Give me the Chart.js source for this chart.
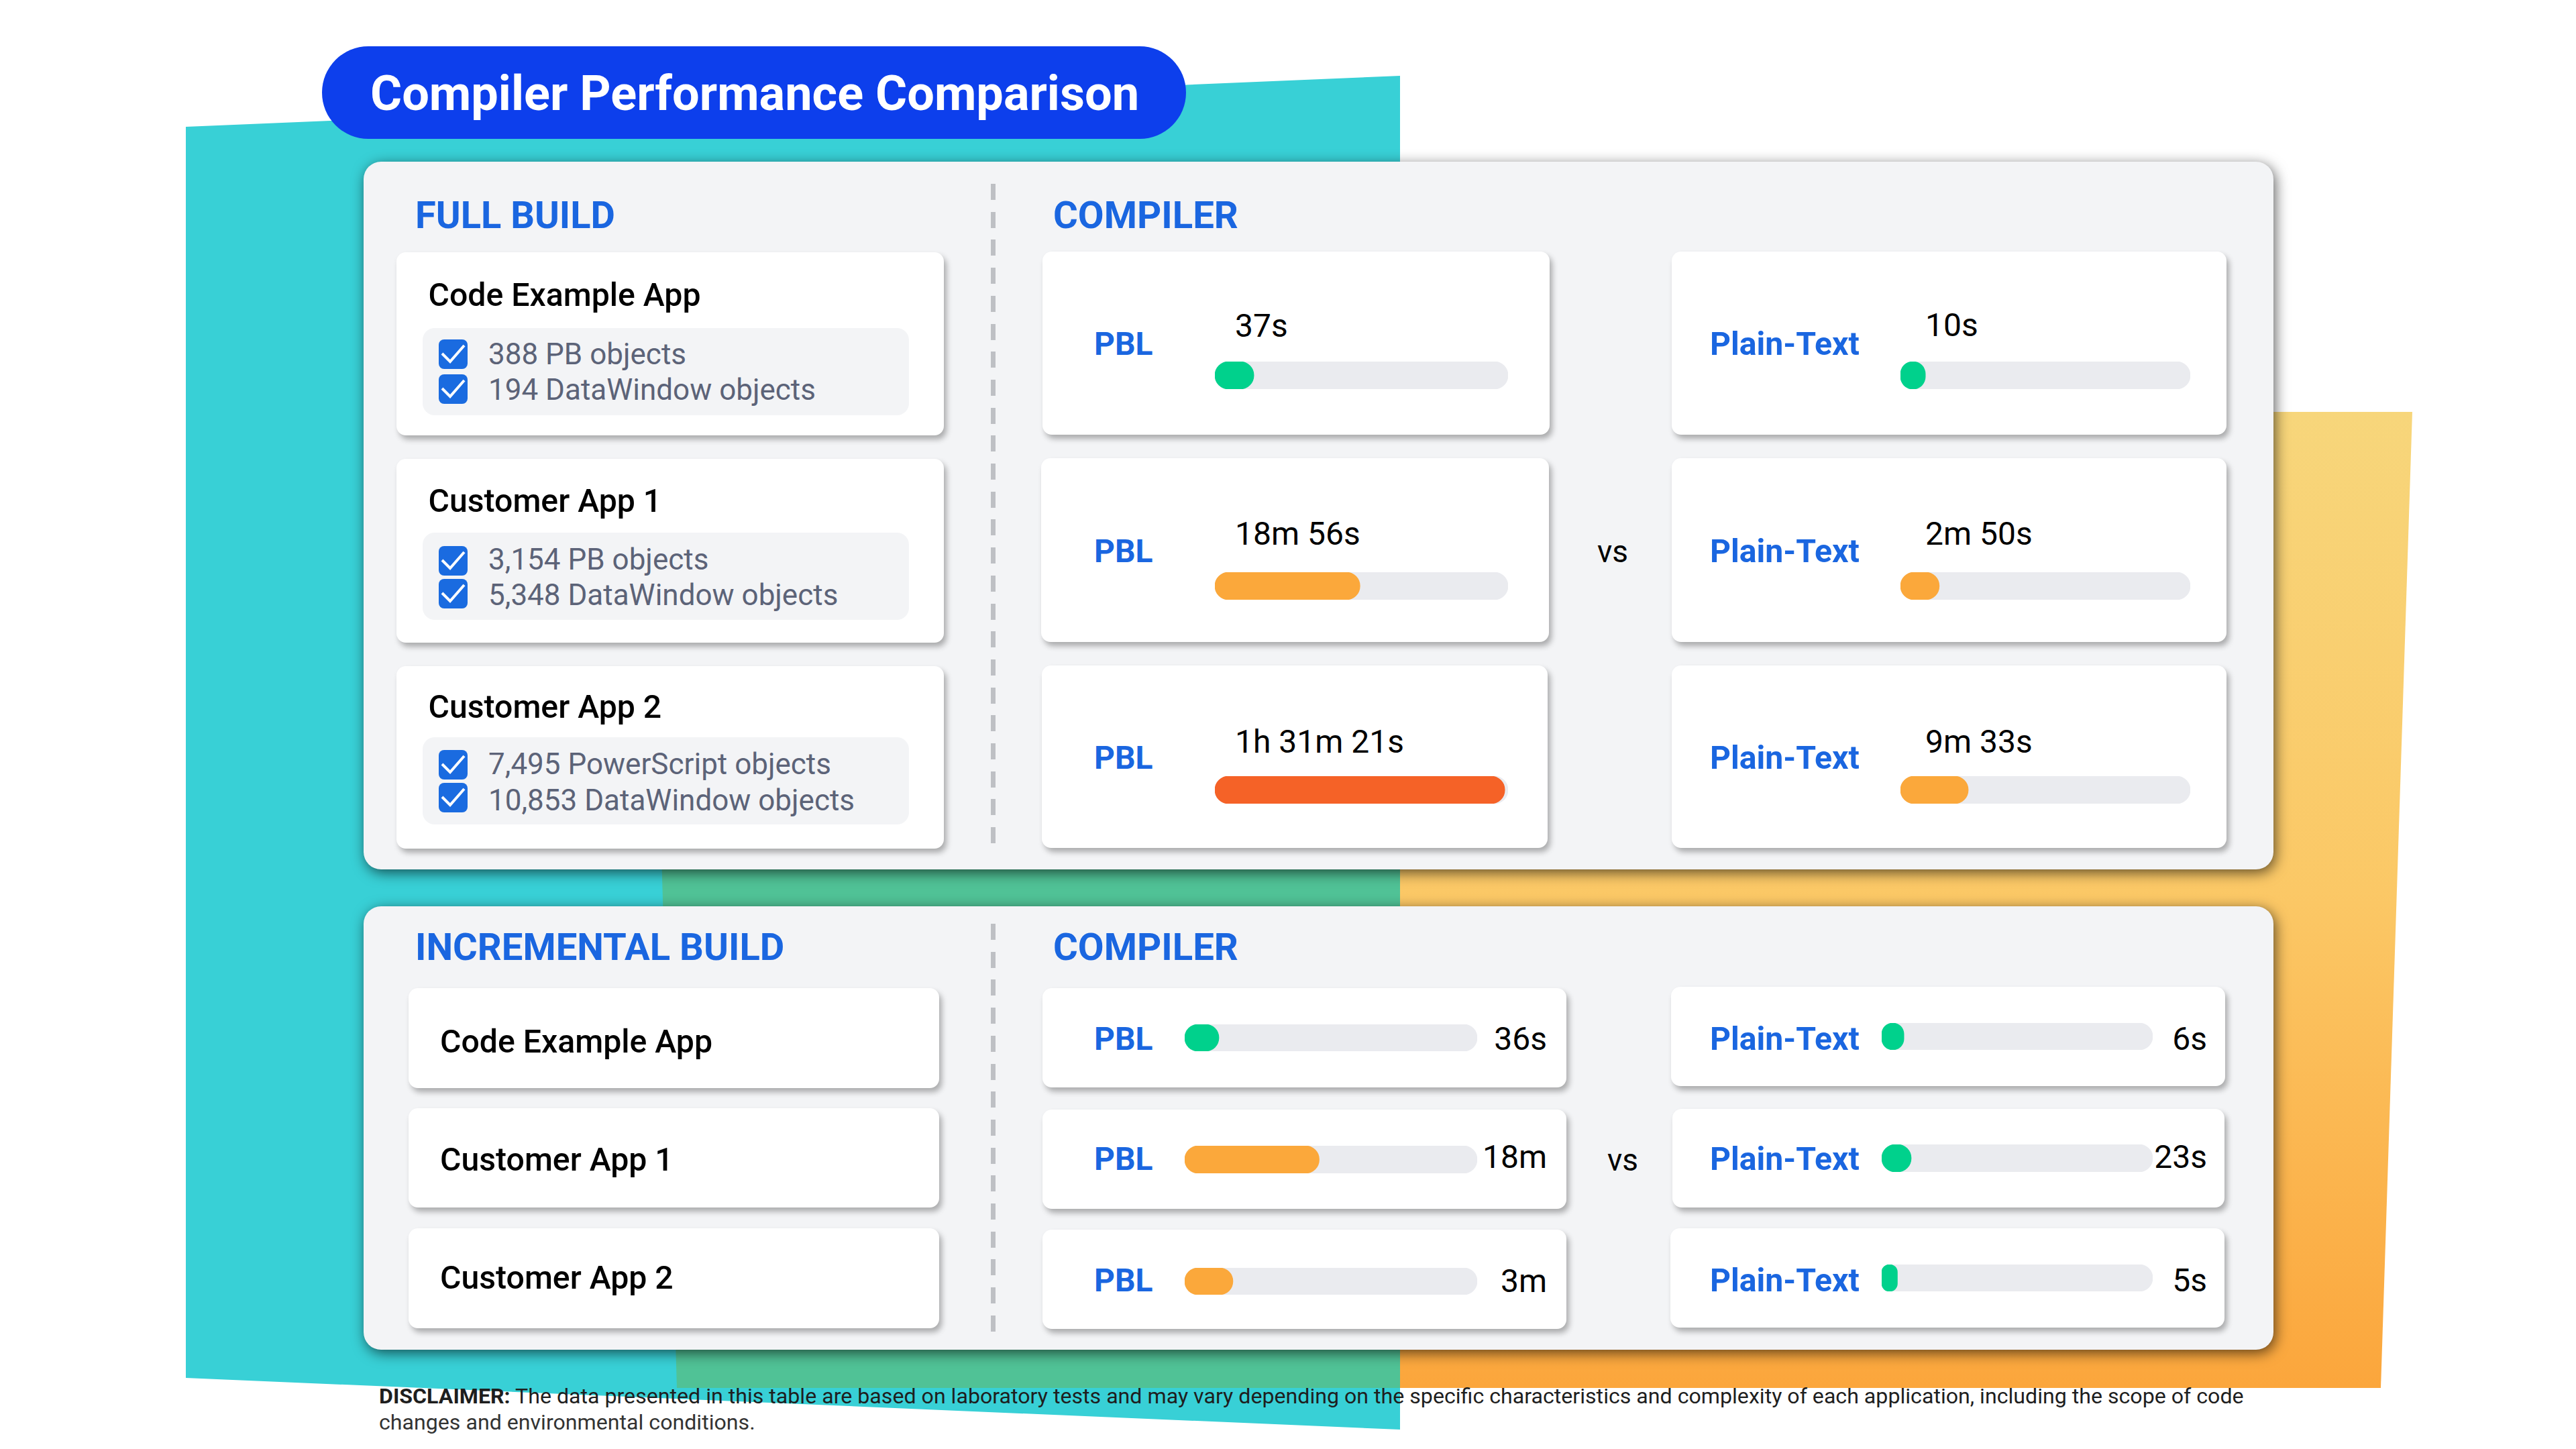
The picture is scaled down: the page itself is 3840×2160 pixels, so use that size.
<!DOCTYPE html>
<html><head><meta charset="utf-8">
<script src="https://cdn.jsdelivr.net/npm/chart.js@4"></script>
<style>
html,body{margin:0;padding:0;background:#fff;width:3840px;height:2160px;overflow:hidden;font-family:Roboto,sans-serif}
#stage{position:relative;width:3840px;height:2160px}
#stage>*{position:absolute}
.panel{background:#F3F4F6;border-radius:26px;box-shadow:3px 5px 20px rgba(0,0,0,.62)}
.card{background:#fff;border-radius:14px;box-shadow:4px 6px 9px rgba(0,0,0,.3)}
.inner{background:#F3F4F6;border-radius:18px}
.t{white-space:nowrap;line-height:1;transform:translateY(-50%)}
.r{transform:translate(-100%,-50%)}
.check{background:#1A6BE0;border-radius:8px}
</style></head><body><div id="stage"></div>
<script>
// ---------- data ----------
const chartTitle = "Compiler Performance Comparison";
const fullHeading = "FULL BUILD";
const incrHeading = "INCREMENTAL BUILD";
const compilerHeading = "COMPILER";
const versus = "vs";
const seriesA = "PBL";
const seriesB = "Plain-Text";
const apps = ["Code Example App", "Customer App 1", "Customer App 2"];
const appObjects = [
  ["388 PB objects", "194 DataWindow objects"],
  ["3,154 PB objects", "5,348 DataWindow objects"],
  ["7,495 PowerScript objects", "10,853 DataWindow objects"]
];
const fullPblTimes = ["37s", "18m 56s", "1h 31m 21s"];
const fullPlainTimes = ["10s", "2m 50s", "9m 33s"];
const incrPblTimes = ["36s", "18m", "3m"];
const incrPlainTimes = ["6s", "23s", "5s"];
// bar fill, percent of track
const fullPblFill = [13.3, 49.5, 98.9];
const fullPlainFill = [8.6, 13.4, 23.4];
const incrPblFill = [11.7, 46, 16.5];
const incrPlainFill = [8.2, 10.9, 5.8];
const disclaimerLead = "DISCLAIMER:";
const disclaimerLine1 = " The data presented in this table are based on laboratory tests and may vary depending on the specific characteristics and complexity of each application, including the scope of code";
const disclaimerLine2 = "changes and environmental conditions.";
const barColors = {low:"#00D18C", mid:"#FBA83B", high:"#F56227"};
const fullPblColors = ["low","mid","high"];
const fullPlainColors = ["low","mid","mid"];
const incrPblColors = ["low","mid","mid"];
const incrPlainColors = ["low","low","low"];

// ---------- helpers ----------
const stage = document.getElementById("stage");
const BLUE = "#1A66E0";
function box(cls,x0,y0,x1,y1){const d=document.createElement("div");d.className=cls;
  d.style.cssText=`left:${x0}px;top:${y0}px;width:${x1-x0}px;height:${y1-y0}px`;stage.appendChild(d);return d;}
function text(str,x,y,size,weight,color,right){const d=document.createElement("div");d.className="t"+(right?" r":"");
  d.textContent=str;d.style.cssText=`left:${x}px;top:${y}px;font-size:${size}px;font-weight:${weight};color:${color};`;
  stage.appendChild(d);return d;}
function bar(x0,y0,x1,y1,val,col){const c=document.createElement("canvas");c.width=x1-x0;c.height=y1-y0;
  c.style.cssText=`left:${x0}px;top:${y0}px;width:${x1-x0}px;height:${y1-y0}px`;stage.appendChild(c);
  new Chart(c,{type:"bar",data:{labels:[""],datasets:[
    {data:[val],backgroundColor:barColors[col],borderRadius:999,borderSkipped:false,barPercentage:1,categoryPercentage:1,order:1},
    {data:[100],backgroundColor:"#EAEBEF",borderRadius:999,borderSkipped:false,barPercentage:1,categoryPercentage:1,order:2}]},
   options:{indexAxis:"y",responsive:false,animation:false,devicePixelRatio:1,layout:{padding:0},
    plugins:{legend:{display:false},tooltip:{enabled:false}},
    scales:{x:{display:false,min:0,max:100,stacked:false},y:{display:false,stacked:true}}}});}
function dashes(x,y0,y1){for(let y=y0;y<y1;y+=41.7){const d=box("",x,y,x+7,Math.min(y+24,y1));d.style.background="#BEC0C4";}}

// ---------- background ----------
const svgNS="http://www.w3.org/2000/svg";
const svg=document.createElementNS(svgNS,"svg");
svg.setAttribute("width",3840);svg.setAttribute("height",2160);svg.style.cssText="left:0;top:0";
svg.innerHTML=`<defs><linearGradient id="g" x1="0" y1="614" x2="0" y2="2069" gradientUnits="userSpaceOnUse">
<stop offset="0" stop-color="#F7D67B"/><stop offset=".49" stop-color="#FBC866"/><stop offset="1" stop-color="#FBA63C"/></linearGradient></defs>
<polygon points="967,614 3596,614 3549,2069 1009,2069" fill="url(#g)"/>
<polygon points="277,189 2087,113 2087,2131 277,2054" fill="#38D0D6"/>
<polygon points="967,614 2087,614 2087,2069 1009,2069" fill="#50C296"/>`;
stage.appendChild(svg);

// ---------- panels ----------
box("panel",542,241,3389,1296);
box("panel",542,1351,3389,2012);
const pill=box("",480,69,1768,207);pill.style.background="#0D3FEC";pill.style.borderRadius="69px";
text(chartTitle,552,139.5,72.1,700,"#fff");

// ---------- FULL BUILD ----------
text(fullHeading,619,321,56,700,BLUE);
text(compilerHeading,1570,321,56.3,700,BLUE);
dashes(1477,274,1264);
const fullRows=[
  {top:376,bot:649,title:440,i0:489,i1:619,c:[506,558],tx:[528,581]},
  {top:684,bot:958,title:747,i0:794,i1:924,c:[814,863],tx:[833.5,886.5]},
  {top:993,bot:1265,title:1054,i0:1099,i1:1229,c:[1118,1167],tx:[1139,1192.5]}];
const pblCardX=[[1554,2310],[1552,2309],[1553,2307]];
const plainCardX=[[2492,3319],[2492,3319],[2492,3319]];
const fullBarY=[[539,580],[853,894],[1157,1198]];
const fullLabelY=[513,822,1130], fullPblTimeY=[486,796,1106], fullPlainTimeY=[485,796,1106];
fullRows.forEach((r,i)=>{
  box("card",591,r.top,1407,r.bot);
  text(apps[i],638.5,r.title,48.2,500,"#000");
  box("inner",630,r.i0,1355,r.i1);
  r.c.forEach((cy,k)=>{const cb=box("check",654,cy,697,cy+44);
    cb.innerHTML='<svg width="43" height="44" viewBox="0 0 43 44"><path d="M5 21 L17 33 L38 9" fill="none" stroke="#fff" stroke-width="4"/></svg>';
    text(appObjects[i][k],728,r.tx[k],44,400,"#5C6378");});
  box("card",pblCardX[i][0],r.top-1,pblCardX[i][1],r.bot-1);
  box("card",plainCardX[i][0],r.top-1,plainCardX[i][1],r.bot-1);
  text(seriesA,1631,fullLabelY[i],48,700,BLUE);
  text(seriesB,2549,fullLabelY[i],48.2,700,BLUE);
  text(fullPblTimes[i],1841,fullPblTimeY[i],48,400,"#000");
  text(fullPlainTimes[i],2870,fullPlainTimeY[i],48,400,"#000");
  bar(1811,fullBarY[i][0],2248,fullBarY[i][1],fullPblFill[i],fullPblColors[i]);
  bar(2833,fullBarY[i][0],3265,fullBarY[i][1],fullPlainFill[i],fullPlainColors[i]);
});
text(versus,2381,822,46,400,"#000");

// ---------- INCREMENTAL BUILD ----------
text(incrHeading,619,1412,56.2,700,BLUE);
text(compilerHeading,1570,1412,56.3,700,BLUE);
dashes(1477,1377,1988);
const incLeftY=[[1473,1622],[1652,1800],[1831,1980]], incLeftText=[1553,1729,1905];
const incPblY=[[1473,1621],[1654,1802],[1833,1981]], incPblText=[1549,1728,1909];
const incPlainY=[[1471,1619],[1653,1800],[1831,1979]], incPlainX=[[2491,3317],[2493,3316],[2490,3316]];
const incPblBar=[[1527,1567],[1708,1749],[1890,1930]], incPlainBar=[[1525,1565],[1706,1747],[1885,1925]];
const incPblVal=[1549,1725,1910], incPlainVal=[1549,1725,1909];
apps.forEach((a,i)=>{
  box("card",609,incLeftY[i][0],1400,incLeftY[i][1]);
  text(a,656,incLeftText[i],48.2,500,"#000");
  box("card",1554,incPblY[i][0],2335,incPblY[i][1]);
  box("card",incPlainX[i][0],incPlainY[i][0],incPlainX[i][1],incPlainY[i][1]);
  text(seriesA,1631,incPblText[i],48,700,BLUE);
  text(seriesB,2549,incPblText[i],48.2,700,BLUE);
  bar(1766,incPblBar[i][0],2202,incPblBar[i][1],incrPblFill[i],incrPblColors[i]);
  bar(2805,incPlainBar[i][0],3209,incPlainBar[i][1],incrPlainFill[i],incrPlainColors[i]);
  text(incrPblTimes[i],2306,incPblVal[i],48,400,"#000",true);
  text(incrPlainTimes[i],3290,incPlainVal[i],48,400,"#000",true);
});
text(versus,2396,1729,46,400,"#000");

// ---------- disclaimer ----------
const dl=text("",565,2081,32.15,400,"#1E1E1E");
const b=document.createElement("b");b.textContent=disclaimerLead;b.style.fontWeight=700;dl.appendChild(b);
dl.appendChild(document.createTextNode(disclaimerLine1));
text(disclaimerLine2,565,2120,32.15,400,"#333");
</script></body></html>
